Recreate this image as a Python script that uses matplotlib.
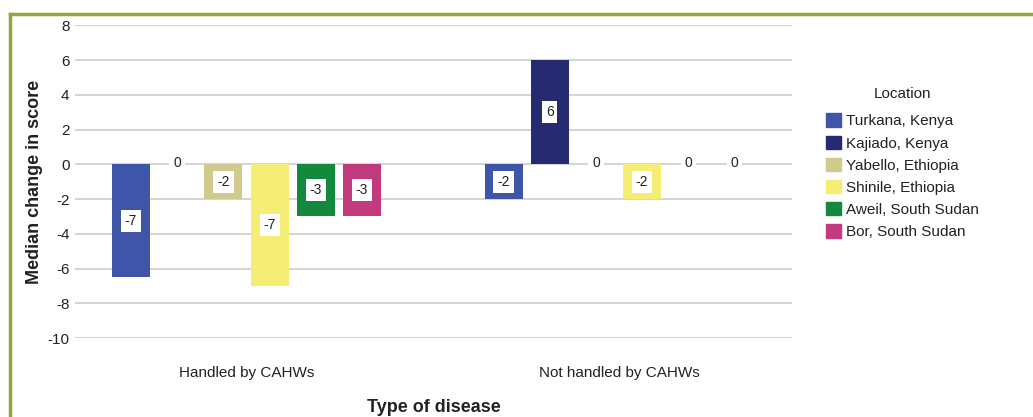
import numpy as np
import matplotlib
matplotlib.use('Agg')
import matplotlib.pyplot as plt
from matplotlib.patches import Patch
from matplotlib.lines import Line2D

plt.rcParams['font.family'] = ['Liberation Sans', 'DejaVu Sans']
plt.rcParams['axes.unicode_minus'] = False

# dados
categorias = ['Handled by CAHWs', 'Not handled by CAHWs']
locais = ['Turkana, Kenya', 'Kajiado, Kenya', 'Yabello, Ethiopia',
          'Shinile, Ethiopia', 'Aweil, South Sudan', 'Bor, South Sudan']
cores = ['#3f55a8', '#262a70', '#d0ca8f', '#f6ee74', '#13893d', '#c13b7e']
tratados = [-6.5, 0, -2, -7, -3, -3]
naoTratados = [-2, 6, 0, -2, 0, 0]
yTicks = [8, 6, 4, 2, 0, -2, -4, -6, -8, -10]


def rotulo(v):
    # arredonda meio para longe do zero
    return str(int(np.sign(v) * np.floor(abs(v) + 0.5)))


fig = plt.figure(figsize=(10.33, 4.17), dpi=100)
ax = fig.add_axes([0.0726, 0.1894, 0.6941, 0.7499])

x = np.arange(len(categorias))
passo = 0.124
largura = 0.102
for i, (nome, cor) in enumerate(zip(locais, cores)):
    valores = [tratados[i], naoTratados[i]]
    pos = x + (i - 2.5) * passo
    ax.bar(pos, valores, width=largura, color=cor, zorder=3)
    for px, v in zip(pos, valores):
        ax.text(px, v / 2 + (0.1 if v == 0 else 0), rotulo(v),
                ha='center', va='center', fontsize=10, color='#222222',
                zorder=5,
                bbox=dict(boxstyle='square,pad=0.28', fc='white', ec='none'))

ax.set_xlim(-0.4604, 1.4644)
ax.set_ylim(-10, 8)
ax.set_yticks(yTicks)
ax.set_xticks(x)
ax.set_xticklabels(categorias, fontsize=11, color='#222222')
ax.tick_params(axis='x', length=0, pad=20)
ax.tick_params(axis='y', length=0, pad=4, labelsize=11, labelcolor='#222222')
ax.grid(axis='y', color='#d6d6d6', linewidth=1.5, zorder=0)
for lado in ax.spines.values():
    lado.set_visible(False)
ax.set_ylabel('Median change in score', fontsize=13, fontweight='bold',
              color='#222222', labelpad=3)
ax.set_xlabel('Type of disease', fontsize=13, fontweight='bold',
              color='#222222', labelpad=14)

handles = [Patch(facecolor=c, edgecolor=c) for c in cores]
leg = fig.legend(handles, locais, loc='upper left',
                 bbox_to_anchor=(826 / 1033, 1 - 87 / 417),
                 frameon=False, fontsize=11, title='Location',
                 title_fontsize=11, handlelength=0.95, handleheight=0.95,
                 handletextpad=0.35, labelspacing=0.48, borderpad=0,
                 borderaxespad=0)
for t in leg.get_texts():
    t.set_color('#222222')
leg.get_title().set_color('#222222')
leg._legend_box.sep = 9

# moldura
corMoldura = '#9ba13f'
fig.add_artist(Line2D([9.5 / 1033, 1.0], [1 - 13.5 / 417, 1 - 13.5 / 417],
                      color=corMoldura, linewidth=2.5, transform=fig.transFigure))
fig.add_artist(Line2D([9.5 / 1033, 9.5 / 1033], [0, 1 - 13.5 / 417],
                      color=corMoldura, linewidth=2.5, transform=fig.transFigure))

fig.savefig('out.png', dpi=100)
